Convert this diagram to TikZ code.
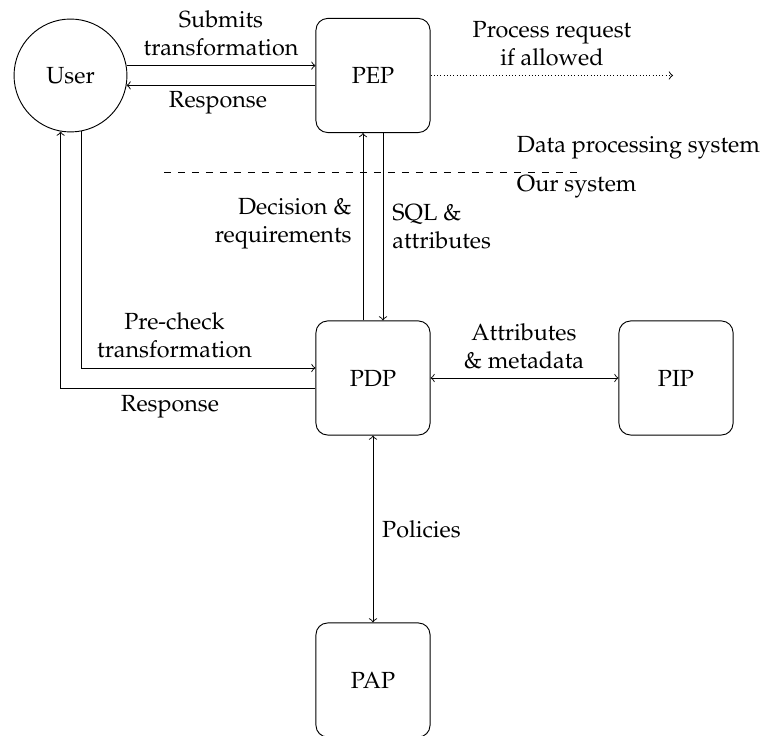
\documentclass[tikz,border=0pt]{standalone}
\usepackage[T1]{fontenc}
\usepackage{mathpazo}
\usetikzlibrary{calc}
\begin{document}
\begin{tikzpicture}[x=0.4286pt,y=-0.4286pt,
  >=to,
  comp/.style={draw,rounded corners=5pt,minimum size=48.9pt,inner sep=0pt},
  actor/.style={draw,circle,minimum size=48.4pt,inner sep=0pt},
  lbl/.style={inner sep=0pt,align=center},
  flow/.style={->},
  both/.style={<->}]
\useasboundingbox (0,0) rectangle (761,736);

% components
\node[actor] (user) at (70.5,75.5) {User};
\node[comp] (pep) at (373,75.5) {PEP};
\node[comp] (pdp) at (373,378) {PDP};
\node[comp] (pip) at (676,378) {PIP};
\node[comp] (pap) at (373,680) {PAP};
\coordinate (out) at (673,75.5);

% user <-> PEP
\draw[flow] (user.10.7) -- (user.10.7 -| pep.west);
\draw[flow] (user.-10.7 -| pep.west) -- (user.-10.7);
\node[lbl] (submit) at (221,33) {Submits\\transformation};
\node[lbl] (resp1) at (218,103) {Response};

% PEP onwards
\draw[->,densely dotted] (pep.east) -- (out);
\node[lbl] (proc) at (552,43.5) {Process request\\if allowed};

% system boundary
\coordinate (dashL) at (164,172);
\coordinate (dashR) at (583,172);
\draw[dashed] (dashL) -- (dashR);
\node[lbl,anchor=west] (dps) at (516.5,148) {Data processing system};
\node[lbl,anchor=west] (ours) at (516.5,187) {Our system};

% PEP <-> PDP
\draw[flow] ([xshift=-4.29pt]pdp.north) -- ([xshift=-4.29pt]pep.south);
\draw[flow] ([xshift=4.29pt]pep.south) -- ([xshift=4.29pt]pdp.north);
\node[lbl,anchor=east,align=right] (dec) at (352,224) {Decision \&\\requirements};
\node[lbl,anchor=west,align=left] (sql) at (392,227) {SQL \&\\attributes};

% user <-> PDP
\draw[flow] (user.-79.8) |- ([yshift=4.29pt]pdp.west);
\draw[flow] ([yshift=-4.29pt]pdp.west) -| (user.-100.2);
\node[lbl] (pre) at (174.5,335) {Pre-check\\transformation};
\node[lbl] (resp2) at (170,407) {Response};

% PDP <-> PIP, PAP
\draw[both] (pdp) -- (pip);
\node[lbl] (attr) at (524,346) {Attributes\\\& metadata};
\draw[both] (pdp) -- (pap);
\node[lbl] (pol) at (421.5,529) {Policies};
\end{tikzpicture}
\end{document}
